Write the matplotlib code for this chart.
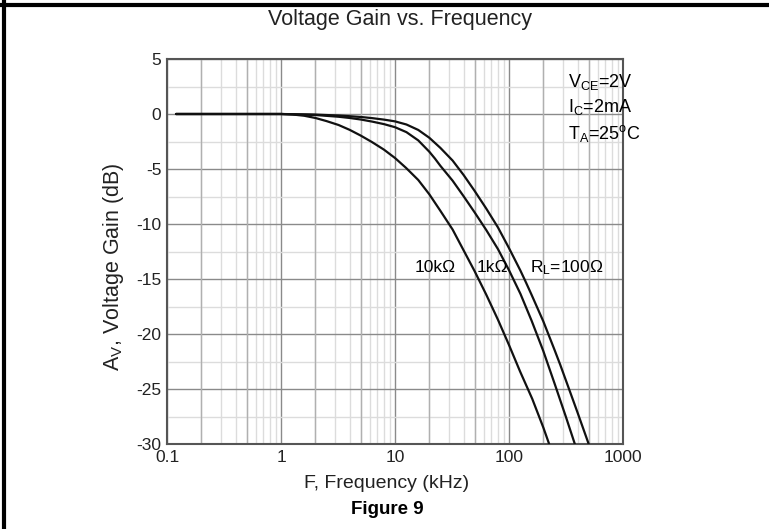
import matplotlib
matplotlib.use("Agg")
import matplotlib.pyplot as plt
import matplotlib.ticker as mticker
from matplotlib.lines import Line2D
import numpy as np

plt.rcParams['font.family'] = ['Liberation Sans', 'DejaVu Sans']
plt.rcParams['mathtext.fontset'] = 'custom'
plt.rcParams['mathtext.rm'] = 'Liberation Sans'
plt.rcParams['mathtext.it'] = 'Liberation Sans'

# values: frequency in kHz, gain in dB
f_10k = [0.12, 0.5, 1, 1.25, 1.6, 2, 2.5, 3.2, 4, 5, 6.3, 8, 10, 12.5, 16, 20, 25, 32,
         40, 50, 63, 80, 100, 125, 160, 200, 225]
gain_10k = [0, 0, 0, -0.04, -0.16, -0.36, -0.64, -1.0, -1.44, -1.96, -2.56, -3.24, -4.0,
            -4.9, -6.0, -7.3, -8.8, -10.5, -12.4, -14.3, -16.4, -18.7, -21.0, -23.4,
            -25.9, -28.5, -30.0]

f_1k = [0.12, 0.5, 1, 2, 3.2, 4, 5, 6.3, 8, 10, 12.6, 16, 20, 22.4, 25, 32, 40, 50, 63,
        80, 100, 126, 158, 200, 251, 316, 378]
gain_1k = [0, 0, 0, -0.09, -0.25, -0.36, -0.5, -0.69, -0.92, -1.2, -1.65, -2.4, -3.43,
           -4.05, -4.71, -6.06, -7.48, -8.95, -10.53, -12.28, -14.2, -16.35, -18.8,
           -21.55, -24.5, -27.55, -30.0]

f_100 = [0.12, 0.5, 1, 2, 3.2, 4, 5, 6.3, 8, 10, 12.6, 16, 20, 25, 32, 40, 50, 63, 80,
         100, 126, 141, 158, 200, 251, 282, 316, 398, 500]
gain_100 = [0, 0, 0, -0.05, -0.14, -0.2, -0.27, -0.375, -0.51, -0.67, -0.955, -1.45,
            -2.16, -3.08, -4.23, -5.55, -7.0, -8.58, -10.31, -12.19, -14.24, -15.32,
            -16.45, -18.85, -21.45, -22.82, -24.23, -27.1, -30.0]

x_ticks = [0.1, 1, 10, 100, 1000]
x_ticklabels = ["0.1", "1", "10", "100", "1000"]
y_ticks = [5, 0, -5, -10, -15, -20, -25, -30]

W, H = 769, 529
fig = plt.figure(figsize=(W/100, H/100), dpi=100)
ax = fig.add_axes([167/W, 1-444/H, (623-167)/W, (444-59)/H])


def px(x, y):
    # pixel position in the picture -> figure fraction
    return (x/W, 1-y/H)


ax.set_xscale('log')
ax.set_xlim(0.1, 1000)
ax.set_ylim(-30, 5)
ax.set_xticks(x_ticks)
ax.set_xticklabels(x_ticklabels)
ax.set_yticks(y_ticks)
ax.set_yticklabels([str(v) for v in y_ticks])
ax.xaxis.set_minor_locator(mticker.LogLocator(base=10, subs=np.arange(2, 10)))
ax.xaxis.set_minor_formatter(mticker.NullFormatter())
ax.yaxis.set_minor_locator(mticker.MultipleLocator(2.5))

# grid: decades and 5 dB darker, 2 and 5 medium, the rest light
ax.grid(True, which='major', color='#8a8a8a', lw=1.0)
ax.grid(True, which='minor', color='#dcdcdc', lw=1.0)
for dec in x_ticks[:-1]:
    for s in (2, 5):
        ax.axvline(dec*s, color='#b0b0b0', lw=1.0, zorder=0.6)
ax.set_axisbelow(True)
ax.tick_params(which='both', length=0, labelsize=12.5, pad=4, colors='#222222')
for sp in ax.spines.values():
    sp.set_color('#555555')
    sp.set_linewidth(1.5)

for f, g in [(f_10k, gain_10k), (f_1k, gain_1k), (f_100, gain_100)]:
    ax.plot(f, g, color='#111111', lw=1.6, solid_joinstyle='round',
            solid_capstyle='round', zorder=3)

# test conditions
fig.text(*px(568, 82), r'V$_{\mathrm{CE}}$=2V', fontsize=13, va='center')
fig.text(*px(568, 107), r'I$_{\mathrm{C}}$=2mA', fontsize=13, va='center')
fig.text(*px(568, 133), r'T$_{\mathrm{A}}$=25$^{\mathrm{o}}$C', fontsize=13, va='center')

# curve labels
fig.text(*px(415, 268), '10kΩ', fontsize=12.5, va='center')
fig.text(*px(477, 268), '1kΩ', fontsize=12.5, va='center')
fig.text(*px(530, 268), r'R$_{\mathrm{L}}$=100Ω', fontsize=12.5, va='center')

# titles
fig.text(*px(400, 20), 'Voltage Gain vs. Frequency', fontsize=15.5, ha='center',
         va='center', color='#222222')
fig.text(*px(387, 484), 'F, Frequency (kHz)', fontsize=14, ha='center', va='center',
         color='#222222')
fig.text(*px(387, 510), 'Figure 9', fontsize=13.5, ha='center', va='center', weight='bold')
fig.text(*px(113, 267), r'A$_{\mathrm{V}}$, Voltage Gain (dB)', fontsize=15.5, ha='center',
         va='center', rotation=90, color='#222222')

# page frame (top and left rules)
fig.add_artist(Line2D([0, 1], [1-5/H, 1-5/H], color='black', lw=3, transform=fig.transFigure))
fig.add_artist(Line2D([4/W, 4/W], [0, 1], color='black', lw=3, transform=fig.transFigure))

fig.savefig('out.png', dpi=100)
